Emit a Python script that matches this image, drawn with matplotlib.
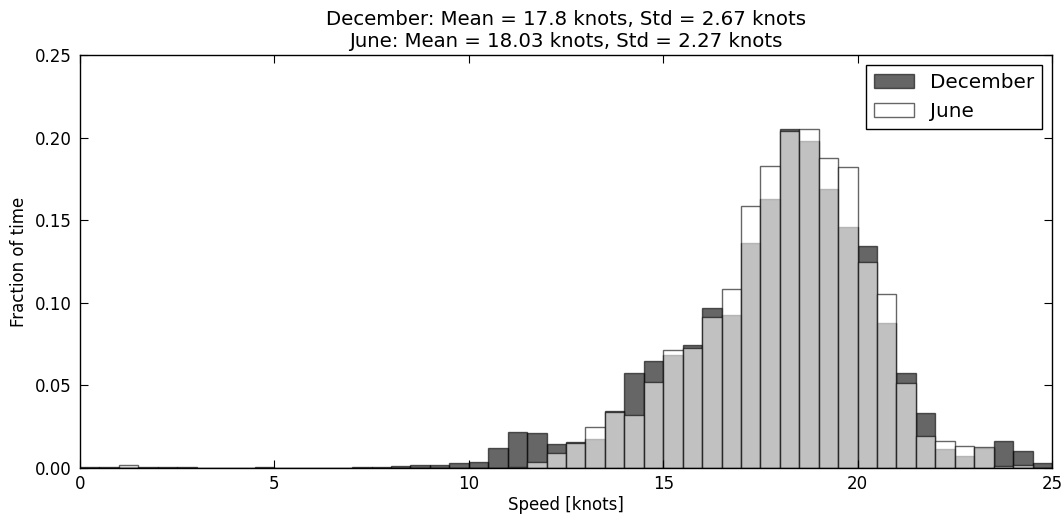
import numpy as np
import matplotlib
matplotlib.use("Agg")
import matplotlib.pyplot as plt

bin_edges = np.arange(0, 25.01, 0.5)

december = [0.0004, 0.0006, 0.0006, 0.0006, 0.0006, 0.0006, 0.0, 0.0, 0.0, 0.0006,
            0.0, 0.0, 0.0, 0.0, 0.0006, 0.0008, 0.0010, 0.0018, 0.0020, 0.0028,
            0.0038, 0.0123, 0.0220, 0.0214, 0.0147, 0.0155, 0.0177, 0.0345, 0.0573, 0.0648,
            0.0684, 0.0743, 0.0967, 0.0926, 0.1364, 0.1626, 0.2054, 0.1981, 0.1691, 0.1461,
            0.1346, 0.0880, 0.0573, 0.0335, 0.0115, 0.0073, 0.0119, 0.0165, 0.0105, 0.0028]

june = [0.0, 0.0002, 0.0018, 0.0, 0.0, 0.0, 0.0, 0.0, 0.0, 0.0,
        0.0, 0.0, 0.0, 0.0, 0.0, 0.0, 0.0, 0.0, 0.0, 0.0,
        0.0, 0.0, 0.0008, 0.0038, 0.0093, 0.0150, 0.0250, 0.0339, 0.0319, 0.0523,
        0.0712, 0.0728, 0.0916, 0.1082, 0.1586, 0.1828, 0.2042, 0.2054, 0.1874, 0.1820,
        0.1245, 0.1051, 0.0517, 0.0194, 0.0165, 0.0135, 0.0129, 0.0014, 0.0020, 0.0]

title = "December: Mean = 17.8 knots, Std = 2.67 knots\nJune: Mean = 18.03 knots, Std = 2.27 knots"

plt.rcParams['font.family'] = ['DejaVu Sans']
fig = plt.figure(figsize=(10.61, 5.16), dpi=100, facecolor='white')
ax = fig.add_axes([0.0754, 0.093, 0.9161, 0.8004])

centers = (bin_edges[:-1] + bin_edges[1:]) / 2
ax.hist(centers, bins=bin_edges, weights=december, color='k', alpha=0.6,
        edgecolor='k', linewidth=1.0, label='December')
ax.hist(centers, bins=bin_edges, weights=june, color='w', alpha=0.6,
        edgecolor='k', linewidth=1.0, label='June')

ax.set_xlim(0, 25)
ax.set_ylim(0, 0.25)
ax.set_xticks([0, 5, 10, 15, 20, 25])
ax.set_yticks([0.0, 0.05, 0.10, 0.15, 0.20, 0.25])
ax.set_yticklabels(['0.00', '0.05', '0.10', '0.15', '0.20', '0.25'])
ax.tick_params(direction='in', top=True, right=True, length=6, labelsize=12)
ax.tick_params(axis='x', pad=5)
ax.tick_params(axis='y', pad=6)
for s in ax.spines.values():
    s.set_linewidth(1.0)
ax.set_xlabel('Speed [knots]', fontsize=12, labelpad=2)
ax.set_ylabel('Fraction of time', fontsize=12, labelpad=5)
ax.set_title(title, fontsize=14.25, pad=6)
leg = ax.legend(loc='upper right', fontsize=14.4, fancybox=False, framealpha=1,
                edgecolor='k', borderaxespad=0.5, handlelength=2.0,
                handleheight=0.7, handletextpad=0.8, borderpad=0.4,
                labelspacing=0.5)
leg.get_frame().set_linewidth(1.0)

fig.savefig('out.png', dpi=100, facecolor='white')
